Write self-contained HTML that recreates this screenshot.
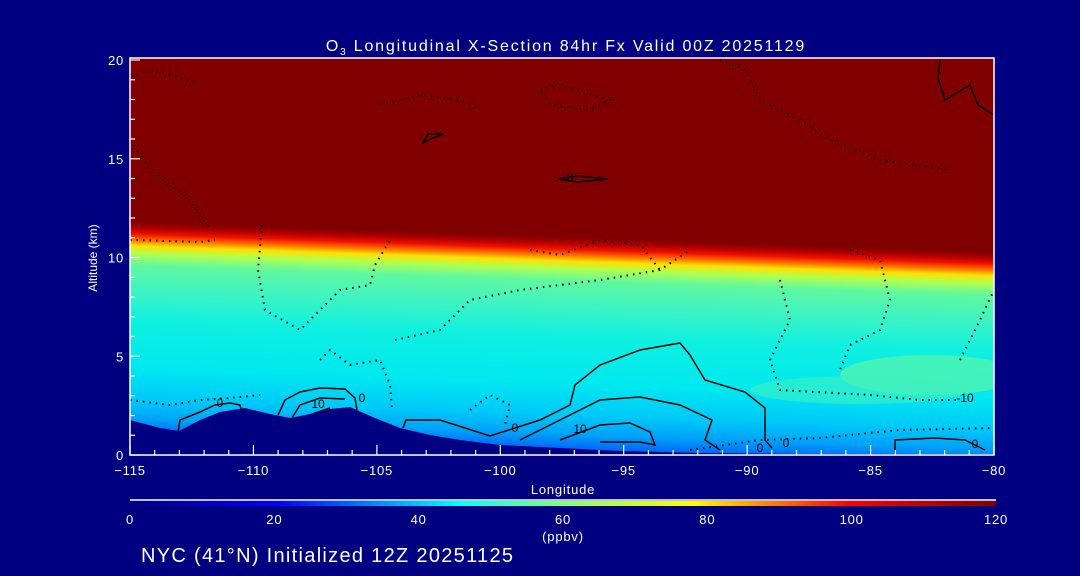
<!DOCTYPE html>
<html><head><meta charset="utf-8"><style>
html,body{margin:0;padding:0;background:#000080;}
svg{display:block;font-family:"Liberation Sans",sans-serif;}
</style></head><body>
<svg width="1080" height="576" viewBox="0 0 1080 576">
<defs>
<linearGradient id="fld" gradientUnits="userSpaceOnUse" x1="0" y1="60" x2="0" y2="455">
<stop offset="0" stop-color="#800000"/>
<stop offset="0.41" stop-color="#800000"/>
<stop offset="0.425" stop-color="#b00000"/>
<stop offset="0.44" stop-color="#f01000"/>
<stop offset="0.455" stop-color="#ff7000"/>
<stop offset="0.47" stop-color="#ffe000"/>
<stop offset="0.49" stop-color="#b0ff50"/>
<stop offset="0.52" stop-color="#60f8a0"/>
<stop offset="0.58" stop-color="#40f4c0"/>
<stop offset="0.66" stop-color="#10f0e0"/>
<stop offset="0.78" stop-color="#00e8f0"/>
<stop offset="0.86" stop-color="#00c8f8"/>
<stop offset="0.91" stop-color="#00a0f8"/>
<stop offset="0.95" stop-color="#0060f8"/>
<stop offset="0.975" stop-color="#0020f0"/>
<stop offset="1" stop-color="#0000d0"/>
</linearGradient>
<linearGradient id="cb" x1="0" x2="1" y1="0" y2="0">
<stop offset="0" stop-color="#000080"/>
<stop offset="0.17" stop-color="#0000ff"/>
<stop offset="0.38" stop-color="#00ffff"/>
<stop offset="0.5" stop-color="#80ff80"/>
<stop offset="0.65" stop-color="#ffff00"/>
<stop offset="0.83" stop-color="#ff0000"/>
<stop offset="1" stop-color="#800000"/>
</linearGradient>
<clipPath id="pc"><rect x="130" y="58" width="864" height="397"/></clipPath>
</defs>

<text x="566" y="51" fill="#fff" font-size="16" letter-spacing="1.8" text-anchor="middle">O<tspan font-size="10" dy="4">3</tspan><tspan dy="-4"> Longitudinal X-Section 84hr  Fx Valid 00Z 20251129</tspan></text>

<g clip-path="url(#pc)">
<rect x="130" y="58" width="864" height="400" fill="#800000"/>
<g transform="translate(130,0) skewY(2)">
<rect x="0" y="0" width="864" height="500" fill="url(#fld)"/>
</g>
<ellipse cx="930" cy="375" rx="90" ry="20" fill="#50f4b0" opacity="0.8"/>
<ellipse cx="860" cy="390" rx="110" ry="14" fill="#40f0c0" opacity="0.6"/>
<g id="contours" fill="none" stroke="#000" stroke-width="1.5"></g>
<polygon fill="#000080" points="130,420 160,428 179,431 200,420 220,412 245,408 270,414 290,418 310,414 330,409 350,407 375,418 400,428 430,435 460,440 500,445 560,448 620,451 700,453 800,454 994,454 994,460 130,460"/>
</g>

<g id="axes" stroke="#fff" fill="none">
<rect x="130" y="58" width="864" height="397" stroke-width="1.5"/>
</g>
<g id="ticks" stroke="#fff" stroke-width="1.2"></g>
<g id="labels" fill="#fff" font-size="13" letter-spacing="0.8"></g>
<text x="563" y="494" fill="#fff" font-size="13" letter-spacing="0.8" text-anchor="middle">Longitude</text>
<text x="97" y="258" fill="#fff" font-size="12" text-anchor="middle" transform="rotate(-90 97 258)">Altitude (km)</text>

<line x1="130" y1="500" x2="996" y2="500" stroke="#fff" stroke-width="1.5"/>
<rect x="130" y="501" width="866" height="5" fill="url(#cb)"/>
<g id="cblabels" fill="#fff" font-size="13" letter-spacing="0.8" text-anchor="middle"></g>
<text x="563" y="541" fill="#fff" font-size="13" letter-spacing="0.8" text-anchor="middle">(ppbv)</text>
<text x="141" y="562" fill="#fff" font-size="20" letter-spacing="1.3">NYC (41°N) Initialized 12Z 20251125</text>
</svg>
<script>
const xTicks=[-115,-110,-105,-100,-95,-90,-85,-80];
const yTicks=[0,5,10,15,20];
const cbTicks=[0,20,40,60,80,100,120];
const X0=130,X1=994,Y0=455,Y1=60;
const sx=v=>X0+(v+115)/35*(X1-X0);
const sy=v=>Y0-v/20*(Y0-Y1);
const NS='http://www.w3.org/2000/svg';
const tk=document.getElementById('ticks'),lb=document.getElementById('labels');
function mk(tag,attrs,parent){const e=document.createElementNS(NS,tag);for(const k in attrs)e.setAttribute(k,attrs[k]);parent.appendChild(e);return e;}
for(let v=-115;v<=-80;v++){const maj=v%5===0;
 const l=mk('line',{x1:sx(v),x2:sx(v),y1:Y0,y2:Y0-(maj?10:5)},tk);
 
 }
xTicks.forEach(v=>{const t=mk('text',{x:sx(v),y:Y0+20,'text-anchor':'middle'},lb);t.textContent=(v<0?'\u2212'+(-v):v);
 
 });
for(let v=0;v<=20;v++){const maj=v%5===0;
 const l=mk('line',{x1:X0,x2:X0+(maj?10:5),y1:sy(v),y2:sy(v)},tk);
 
 }
yTicks.forEach(v=>{const t=mk('text',{x:X0-6,y:sy(v)+5,'text-anchor':'end'},lb);t.textContent=v;
 
 });
const cbl=document.getElementById('cblabels');
cbTicks.forEach(v=>{const t=mk('text',{x:130+v/120*866,y:524},cbl);t.textContent=v;
 
 });
const ct=document.getElementById('contours');
const solid=[
"M178,432 L180,420 L200,412 L215,405 L230,403 L240,405 L242,412",
"M278,415 L285,400 L300,392 L320,388 L345,389 L355,398 L357,410",
"M292,418 L300,405 L320,398 L345,399",
"M303,423 L312,414 L330,408",
"M403,428 L406,420 L440,420 L490,436 L540,420 L570,405 L575,385 L600,365 L640,350 L680,343 L690,355 L705,380 L745,392 L765,408 L765,440 L772,448",
"M520,440 L560,420 L600,400 L640,397 L680,405 L712,420 L705,440 L720,450",
"M560,440 L600,425 L630,423 L650,432 L655,445 L640,442 L600,442",
"M895,455 L895,440 L935,438 L965,440 L985,450",
"M423,143 L428,134 L444,134 L430,139 Z","M558,179 L578,176 L608,179 L578,182 Z",
"M940,60 L938,78 L945,100 L970,85 L978,105 L994,115"
];
const dotted=[
"M130,75 L160,72 L180,78 L200,85","M262,225 L258,270 L265,310 L300,330 L320,310 L340,290 L370,285 L375,265 L390,240",
"M130,240 L200,242 L215,240","M130,400 L170,405 L200,400 L230,398 L260,395",
"M320,360 L330,350 L350,365 L380,360 L390,385 L392,410","M395,340 L440,330 L470,300 L520,290 L600,280 L660,270 L690,250",
"M530,250 L560,255 L600,240 L640,245 L660,270","M780,280 L790,320 L770,360 L780,390 L870,395 L920,400 L960,400",
"M960,360 L980,320 L994,290","M850,250 L880,260 L890,300 L880,330 L850,345 L840,370",
"M380,105 L420,95 L460,100 L480,110","M540,90 L560,85 L610,100 L590,110 L550,105 Z",
"M720,60 L745,70 L760,100 L800,120 L830,140 L880,160 L950,170","M130,140 L150,170 L190,200 L210,230",
"M470,410 L490,395 L510,405 L505,425","M690,450 L760,440 L820,438 L900,430 L994,428"
];
solid.forEach(d=>{const p=mk('path',{d:d},ct);
 
 });
dotted.forEach(d=>{const p=mk('path',{d:d,'stroke-dasharray':'1.5 5','stroke-width':'2'},ct);
 
 });
[["0",220,407],["10",318,408],["0",362,402],["0",515,432],["10",580,433],["0",760,452],["0",786,447],["-10",965,402],["0",975,448],["0",570,182]].forEach(a=>{
 const t=mk('text',{x:a[1],y:a[2],'font-size':'12',fill:'#000',stroke:'none','text-anchor':'middle'},ct);t.textContent=a[0];
 
 });
</script>
</body></html>
